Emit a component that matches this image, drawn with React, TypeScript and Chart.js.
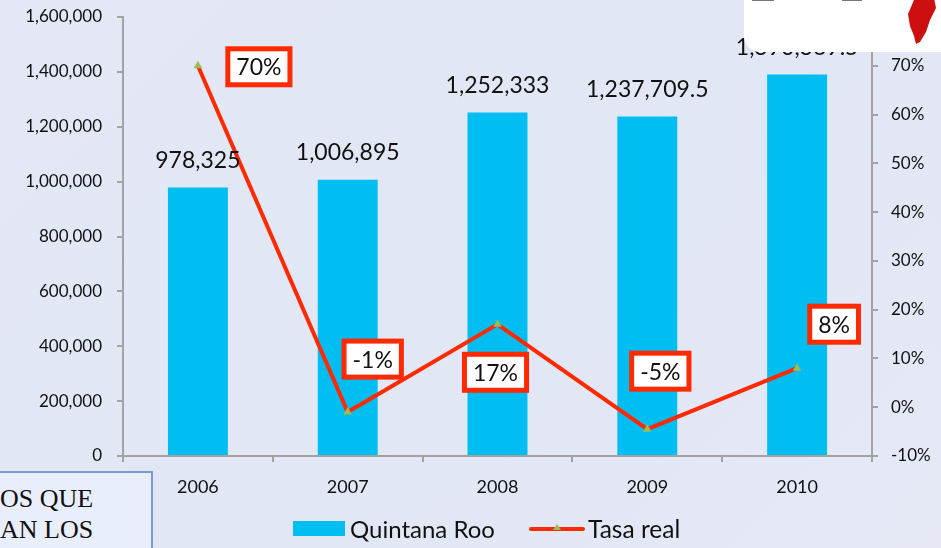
import React, { useEffect, useRef } from 'react';
import { Chart, registerables } from 'chart.js';

Chart.register(...registerables);

// ---- data ----
const years = ['2006', '2007', '2008', '2009', '2010'];
const quintanaRoo = [978325, 1006895, 1252333, 1237709.5, 1390369.5];
const quintanaRooLabels = ['978,325', '1,006,895', '1,252,333', '1,237,709.5', '1,390,369.5'];
const tasaReal = [70, -1, 17, -4.5, 8];
const tasaLabels = ['70%', '-1%', '17%', '-5%', '8%'];
const leftAxisMin = 0;
const leftAxisMax = 1600000;
const leftAxisStep = 200000;
const rightAxisMin = -10;
const rightAxisMax = 80;
const rightAxisStep = 10;
// offsets of the boxed rate labels from their points (px)
const tasaLabelOffsets = [[61, 1], [25, -53], [-2, 48], [13, -58], [37, -44]];

const FONT = 'Lato, "Open Sans", sans-serif';
const BAR_COLOR = '#00bdf2';
const LINE_COLOR = '#ff2a00';
const MARKER_COLOR = '#9bbb59';
const AXIS_COLOR = '#a3a3a3';

const labelsPlugin = {
  id: 'customLabels',
  afterDatasetsDraw(chart: any) {
    const ctx = chart.ctx;
    const x = chart.scales.x;
    const y = chart.scales.y;
    const y1 = chart.scales.y1;
    ctx.save();
    // bar value labels
    ctx.font = `23px ${FONT}`;
    ctx.fillStyle = '#111';
    ctx.textAlign = 'center';
    ctx.textBaseline = 'middle';
    quintanaRoo.forEach((v, i) => {
      ctx.fillText(quintanaRooLabels[i], x.getPixelForValue(i), y.getPixelForValue(v) - 27);
    });
    // boxed rate labels
    ctx.font = `23px ${FONT}`;
    tasaReal.forEach((v, i) => {
      const px = x.getPixelForValue(i) + tasaLabelOffsets[i][0];
      const py = y1.getPixelForValue(v) + tasaLabelOffsets[i][1];
      const tw = ctx.measureText(tasaLabels[i]).width;
      const w = tw + 17;
      const h = 36;
      ctx.fillStyle = '#ffffff';
      ctx.fillRect(px - w / 2, py - h / 2, w, h);
      ctx.lineWidth = 5;
      ctx.strokeStyle = LINE_COLOR;
      ctx.strokeRect(px - w / 2, py - h / 2, w, h);
      ctx.fillStyle = '#111';
      ctx.fillText(tasaLabels[i], px, py + 1);
    });
    ctx.restore();
  },
  afterDraw(chart: any) {
    const ctx = chart.ctx;
    ctx.save();
    // legend
    ctx.fillStyle = BAR_COLOR;
    ctx.fillRect(293, 521, 52, 15);
    ctx.font = `24px ${FONT}`;
    ctx.fillStyle = '#111';
    ctx.textBaseline = 'middle';
    ctx.textAlign = 'left';
    ctx.fillText('Quintana Roo', 350, 530);
    ctx.strokeStyle = LINE_COLOR;
    ctx.lineWidth = 4;
    ctx.lineCap = 'round';
    ctx.beginPath();
    ctx.moveTo(531, 529);
    ctx.lineTo(583, 529);
    ctx.stroke();
    ctx.fillStyle = MARKER_COLOR;
    ctx.beginPath();
    ctx.moveTo(557, 524);
    ctx.lineTo(561, 530);
    ctx.lineTo(553, 530);
    ctx.closePath();
    ctx.fill();
    ctx.fillStyle = '#111';
    ctx.font = `24.5px ${FONT}`;
    ctx.fillText('Tasa real', 588, 530);
    ctx.restore();
  },
};

export default function App() {
  const canvasRef = useRef<HTMLCanvasElement | null>(null);

  useEffect(() => {
    if (!canvasRef.current) return;
    const chart = new Chart(canvasRef.current, {
      type: 'bar',
      data: {
        labels: years,
        datasets: [
          {
            type: 'line',
            label: 'Tasa real',
            data: tasaReal,
            yAxisID: 'y1',
            borderColor: LINE_COLOR,
            backgroundColor: MARKER_COLOR,
            borderWidth: 4,
            pointStyle: 'triangle',
            pointRadius: 5,
            pointBackgroundColor: MARKER_COLOR,
            pointBorderColor: MARKER_COLOR,
            pointBorderWidth: 0,
            tension: 0,
            order: 0,
          } as any,
          {
            type: 'bar',
            label: 'Quintana Roo',
            data: quintanaRoo,
            yAxisID: 'y',
            backgroundColor: BAR_COLOR,
            borderWidth: 0,
            barPercentage: 0.4,
            categoryPercentage: 1,
            order: 1,
          },
        ],
      },
      options: {
        responsive: false,
        animation: false,
        layout: { padding: { top: 17, bottom: 52, left: 0, right: 0 } },
        plugins: {
          legend: { display: false },
          tooltip: { enabled: false },
        },
        scales: {
          x: {
            offset: true,
            grid: {
              offset: true,
              drawOnChartArea: false,
              drawTicks: true,
              tickLength: 6,
              color: AXIS_COLOR,
              lineWidth: 2,
            },
            border: { color: AXIS_COLOR, width: 2 },
            ticks: { color: '#111', font: { family: FONT, size: 18 }, padding: 14 },
            afterFit(scale: any) {
              scale.height = 40;
              scale.paddingLeft = 0;
              scale.paddingRight = 0;
            },
          },
          y: {
            position: 'left',
            min: leftAxisMin,
            max: leftAxisMax,
            ticks: {
              stepSize: leftAxisStep,
              color: '#111',
              font: { family: FONT, size: 17 },
              padding: 15,
              callback: (v: any) => Number(v).toLocaleString('en-US'),
            },
            grid: { drawOnChartArea: false, tickLength: 6, color: AXIS_COLOR, lineWidth: 2 },
            border: { color: AXIS_COLOR, width: 2 },
            afterFit(scale: any) {
              scale.width = 123;
              scale.paddingTop = 0;
              scale.paddingBottom = 0;
            },
          },
          y1: {
            position: 'right',
            min: rightAxisMin,
            max: rightAxisMax,
            ticks: {
              stepSize: rightAxisStep,
              color: '#111',
              font: { family: FONT, size: 17 },
              padding: 13,
              callback: (v: any) => `${v}%`,
            },
            grid: { drawOnChartArea: false, tickLength: 6, color: AXIS_COLOR, lineWidth: 2 },
            border: { color: AXIS_COLOR, width: 2 },
            afterFit(scale: any) {
              scale.width = 69;
              scale.paddingTop = 0;
              scale.paddingBottom = 0;
            },
          },
        },
      },
      plugins: [labelsPlugin],
    });
    return () => chart.destroy();
  }, []);

  return (
    <div
      style={{
        position: 'fixed',
        left: 0,
        top: 0,
        width: 941,
        height: 548,
        overflow: 'hidden',
        background: 'linear-gradient(135deg, #e4e8f6 0%, #e1e7f5 50%, #e6e8f6 100%)',
      }}
    >
      <canvas ref={canvasRef} width={941} height={548} style={{ position: 'absolute', left: 0, top: 0 }} />
      {/* top-right logo panel */}
      <div
        style={{
          position: 'absolute',
          left: 744,
          top: -30,
          width: 240,
          height: 82,
          background: '#ffffff',
          borderRadius: 16,
        }}
      >
        <svg width="240" height="82" style={{ position: 'absolute', left: 0, top: 0 }}>
          <rect x="8" y="29" width="22" height="2" fill="#777" />
          <rect x="98" y="29" width="20" height="2" fill="#777" />
          <path
            d="M170 30 L190 28 L192 38 L186 50 L182 62 L176 72 L172 74 L170 66 L166 56 L164 44 Z"
            fill="#cc1010"
          />
        </svg>
      </div>
      {/* bottom-left text box */}
      <div
        style={{
          position: 'absolute',
          left: -10,
          top: 471,
          width: 163,
          height: 100,
          background: '#e8eefb',
          border: '2px solid #7b9bd0',
          boxSizing: 'border-box',
          fontFamily: '"Liberation Serif", "Times New Roman", serif',
          fontSize: 26,
          lineHeight: '31px',
          color: '#111',
          paddingTop: 10,
          paddingLeft: 8,
          whiteSpace: 'nowrap',
        }}
      >
        <div>OS QUE</div>
        <div>AN LOS</div>
      </div>
    </div>
  );
}
